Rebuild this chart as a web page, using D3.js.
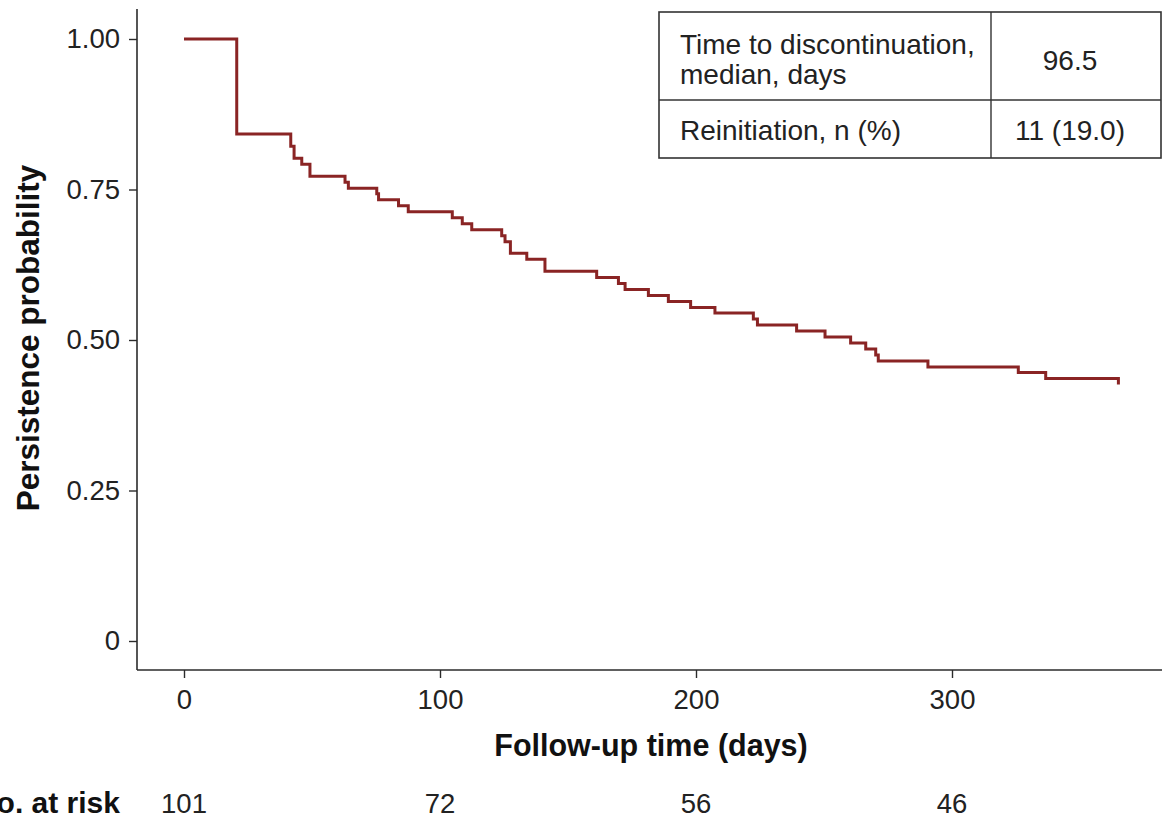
<!DOCTYPE html>
<html>
<head>
<meta charset="utf-8">
<script src="https://cdn.jsdelivr.net/npm/d3@7/dist/d3.min.js"></script>
<style>
  html, body { margin: 0; padding: 0; background: #fff; }
  svg { display: block; font-family: "Liberation Sans", Arial, Helvetica, sans-serif; }
</style>
</head>
<body>
<svg id="chart" width="1162" height="818"></svg>
<script>
// ---- data ----
const eventDays = [0, 20.6, 41.7, 43, 46, 49.2, 62.9, 64.2, 75.3, 76, 83.8, 87.6,
  104.8, 108.7, 112.4, 124.1, 125.4, 127.5, 133.9, 141, 161.2, 169.7, 172.3, 181.4,
  189.2, 197.9, 207.4, 222.4, 224, 239.3, 250.4, 260.4, 266.3, 270.2, 271.2, 290.6,
  325.9, 336.6, 365];
const survival = [1.000, 0.842, 0.822, 0.802, 0.792, 0.772, 0.762, 0.752, 0.743, 0.733, 0.723, 0.713,
  0.703, 0.693, 0.683, 0.673, 0.663, 0.644, 0.634, 0.614, 0.604, 0.594, 0.584, 0.574,
  0.564, 0.554, 0.545, 0.535, 0.525, 0.515, 0.505, 0.495, 0.485, 0.475, 0.465, 0.455,
  0.446, 0.436, 0.426];
const xTicks = [0, 100, 200, 300];
const yTicks = [0, 0.25, 0.5, 0.75, 1];
const yTickLabels = ["0", "0.25", "0.50", "0.75", "1.00"];
const riskDays = [0, 100, 200, 300];
const riskCounts = [101, 72, 56, 46];
const tableRow1Label = ["Time to discontinuation,", "median, days"];
const tableRow1Value = "96.5";
const tableRow2Label = "Reinitiation, n (%)";
const tableRow2Value = "11 (19.0)";

// ---- layout ----
const svg = d3.select("#chart");
const axisColor = "#2b2b2b";
const lineColor = "#8a2424";

const x = d3.scaleLinear().domain([0, 100]).range([184, 440]);
const y = d3.scaleLinear().domain([0, 1]).range([641, 39]);
const xLeft = 137, yBottom = 670;

// axes
const yAxis = d3.axisLeft(y).tickValues(yTicks).tickSize(8).tickSizeOuter(0)
  .tickFormat((d, i) => yTickLabels[i]);
const yG = svg.append("g").attr("transform", `translate(${xLeft},0)`).call(yAxis);
yG.select(".domain").remove();
svg.append("line").attr("x1", xLeft).attr("x2", xLeft).attr("y1", 9).attr("y2", yBottom)
  .attr("stroke", axisColor).attr("stroke-width", 1.6);
yG.selectAll(".tick line").attr("stroke", axisColor).attr("stroke-width", 1.4);
yG.selectAll(".tick text").attr("x", -17).attr("font-size", 27.5).attr("fill", "#222")
  .attr("font-family", "Liberation Sans, Arial, sans-serif");

const xAxis = d3.axisBottom(x).tickValues(xTicks).tickSize(8).tickSizeOuter(0);
const xG = svg.append("g").attr("transform", `translate(0,${yBottom})`).call(xAxis);
xG.select(".domain").remove();
svg.append("line").attr("x1", xLeft).attr("x2", 1162).attr("y1", yBottom).attr("y2", yBottom)
  .attr("stroke", axisColor).attr("stroke-width", 1.6);
xG.selectAll(".tick line").attr("stroke", axisColor).attr("stroke-width", 1.4);
xG.selectAll(".tick text").attr("y", 19).attr("dy", "0.71em").attr("font-size", 27.5).attr("fill", "#222")
  .attr("font-family", "Liberation Sans, Arial, sans-serif");

// axis titles
svg.append("text").attr("x", 651).attr("y", 756).attr("text-anchor", "middle")
  .attr("font-size", 30.5).attr("font-weight", "bold").attr("fill", "#111")
  .text("Follow-up time (days)");
svg.append("text").attr("transform", "translate(39,338) rotate(-90)").attr("text-anchor", "middle")
  .attr("font-size", 31.5).attr("font-weight", "bold").attr("fill", "#111")
  .text("Persistence probability");

// number at risk
svg.append("text").attr("x", 120).attr("y", 813).attr("text-anchor", "end")
  .attr("font-size", 30).attr("font-weight", "bold").attr("fill", "#111").text("No. at risk");
svg.selectAll("text.risk").data(riskDays).join("text").attr("class", "risk")
  .attr("x", d => x(d)).attr("y", 813).attr("text-anchor", "middle")
  .attr("font-size", 27.5).attr("fill", "#222")
  .text((d, i) => riskCounts[i]);

// KM curve
const pts = eventDays.map((d, i) => [d, survival[i]]);
const line = d3.line().x(d => x(d[0])).y(d => y(d[1])).curve(d3.curveStepAfter);
svg.append("path").datum(pts).attr("d", line).attr("fill", "none")
  .attr("stroke", lineColor).attr("stroke-width", 3).attr("stroke-linejoin", "miter");

// table
const tL = 659, tR = 1161, tTop = 12, tMid = 100, tBot = 158, tCol = 991;
const tg = svg.append("g");
tg.append("rect").attr("x", tL).attr("y", tTop).attr("width", tR - tL).attr("height", tBot - tTop)
  .attr("fill", "#fff").attr("stroke", "#333").attr("stroke-width", 1.6);
tg.append("line").attr("x1", tL).attr("x2", tR).attr("y1", tMid).attr("y2", tMid)
  .attr("stroke", "#333").attr("stroke-width", 1.4);
tg.append("line").attr("x1", tCol).attr("x2", tCol).attr("y1", tTop).attr("y2", tBot)
  .attr("stroke", "#333").attr("stroke-width", 1.4);
tg.selectAll("text.r1").data(tableRow1Label).join("text").attr("class", "r1")
  .attr("x", 680).attr("y", (d, i) => 54 + i * 30).attr("font-size", 28).attr("fill", "#222").text(d => d);
const valCx = (tCol + tR) / 2 - 6;
tg.append("text").attr("x", valCx).attr("y", 70).attr("text-anchor", "middle")
  .attr("font-size", 28).attr("fill", "#222").text(tableRow1Value);
tg.append("text").attr("x", 680).attr("y", 140).attr("font-size", 28).attr("fill", "#222").text(tableRow2Label);
tg.append("text").attr("x", valCx).attr("y", 140).attr("text-anchor", "middle")
  .attr("font-size", 28).attr("fill", "#222").text(tableRow2Value);
</script>
</body>
</html>
